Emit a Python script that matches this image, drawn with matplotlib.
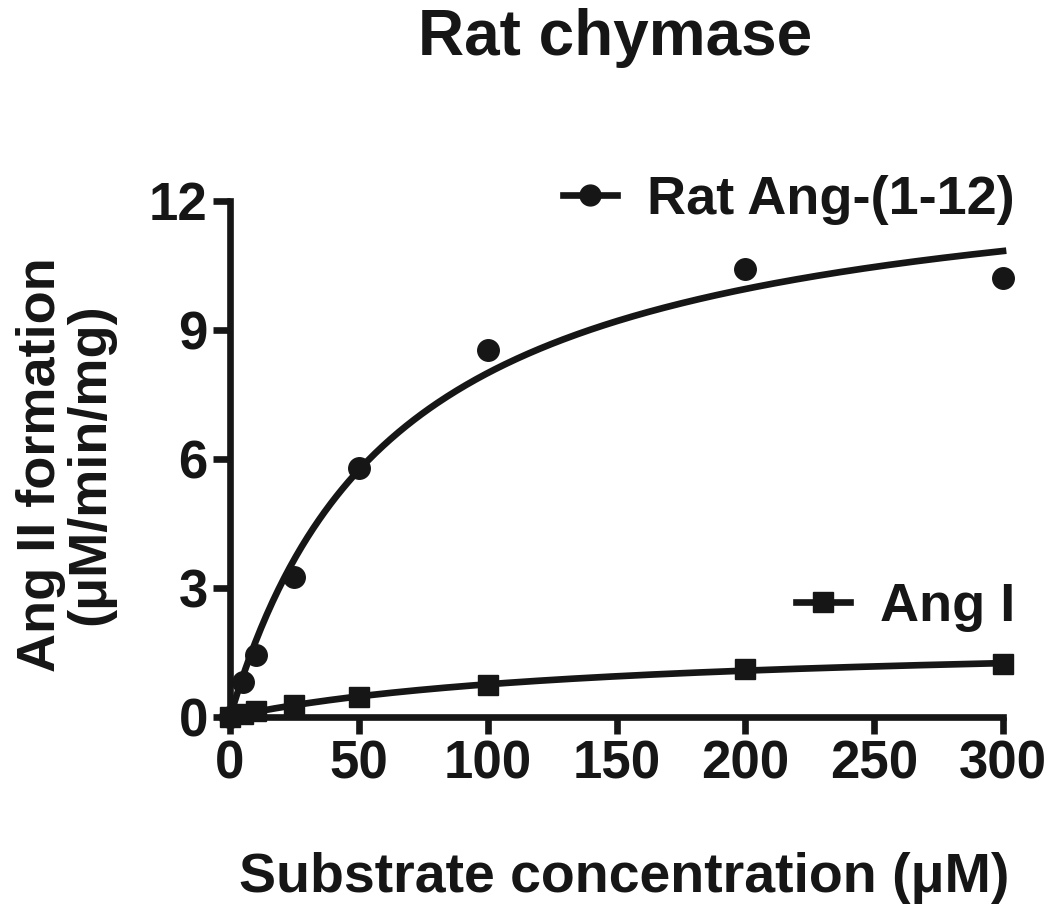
import matplotlib
matplotlib.use("Agg")
import matplotlib.pyplot as plt
from matplotlib.lines import Line2D
import numpy as np

plt.rcParams['font.family'] = ['Liberation Sans', 'DejaVu Sans']
plt.rcParams['font.weight'] = 'bold'

# data
substrate = np.array([0, 5, 10, 25, 50, 100, 200, 300])
rat_ang_1_12 = np.array([0.0, 0.81, 1.44, 3.26, 5.78, 8.53, 10.42, 10.2])
ang_i = np.array([0.0, 0.07, 0.13, 0.28, 0.47, 0.74, 1.12, 1.23])

x_ticks = [0, 50, 100, 150, 200, 250, 300]
y_ticks = [0, 3, 6, 9, 12]

ink = '#161616'


def fit_mm(s, v):
    # Michaelis-Menten least squares (grid over Km, Vmax closed form)
    best = None
    for km in np.linspace(1, 600, 6000):
        f = s / (km + s)
        vmax = (f @ v) / (f @ f)
        sse = ((v - vmax * f) ** 2).sum()
        if best is None or sse < best[0]:
            best = (sse, vmax, km)
    return best[1], best[2]


fig = plt.figure(figsize=(10.5, 9.05), dpi=100)
ax = fig.add_axes([230 / 1050, 1 - 717 / 905, 773 / 1050, 516 / 905])

s_fine = np.linspace(0, 300, 400)
for vals, mk, ms in [(rat_ang_1_12, 'o', 15.5), (ang_i, 's', 14.5)]:
    vmax, km = fit_mm(substrate, vals)
    ax.plot(s_fine, vmax * s_fine / (km + s_fine), color=ink, lw=4.8,
            clip_on=False, zorder=3)
    ax.plot(substrate, vals, mk, color=ink, ms=ms, clip_on=False, zorder=4)

ax.set_xlim(0, 300)
ax.set_ylim(0, 12)
ax.set_xticks(x_ticks)
ax.set_yticks(y_ticks)
for side in ['top', 'right']:
    ax.spines[side].set_visible(False)
for side in ['left', 'bottom']:
    ax.spines[side].set_linewidth(4.8)
    ax.spines[side].set_color(ink)
    ax.spines[side].set_capstyle('projecting')
ax.tick_params(length=12, width=4.8, color=ink, labelsize=38, pad=4,
               labelcolor=ink)

ax.set_ylabel('Ang II formation\n(\u03bcM/min/mg)', fontsize=39,
              fontweight='bold', color=ink, linespacing=1.0)
ax.yaxis.set_label_coords(-0.148, 0.49)
ax.set_xlabel('Substrate concentration (\u03bcM)', fontsize=40,
              fontweight='bold', color=ink)
ax.xaxis.set_label_coords(0.51, -0.262)

fig.text(615 / 1050, 1 - 38 / 905, 'Rat chymase', ha='center', va='center',
         fontsize=46, fontweight='bold', color=ink)

h1 = Line2D([], [], color=ink, lw=4.8, marker='o', ms=15)
h2 = Line2D([], [], color=ink, lw=4.8, marker='s', ms=14)
leg1 = ax.legend([h1], ['Rat Ang-(1-12)'], loc='center right',
                 bbox_to_anchor=(1015 / 1050, 1 - 200 / 905),
                 bbox_transform=fig.transFigure, frameon=False,
                 fontsize=39, handlelength=1.0, handletextpad=0.55,
                 borderpad=0, borderaxespad=0)
for t in leg1.get_texts():
    t.set_color(ink)
ax.add_artist(leg1)
leg2 = ax.legend([h2], ['Ang I'], loc='center right',
                 bbox_to_anchor=(1015 / 1050, 1 - 607 / 905),
                 bbox_transform=fig.transFigure, frameon=False,
                 fontsize=39, handlelength=1.0, handletextpad=0.55,
                 borderpad=0, borderaxespad=0)
for t in leg2.get_texts():
    t.set_color(ink)

fig.savefig('out.png', dpi=100)
